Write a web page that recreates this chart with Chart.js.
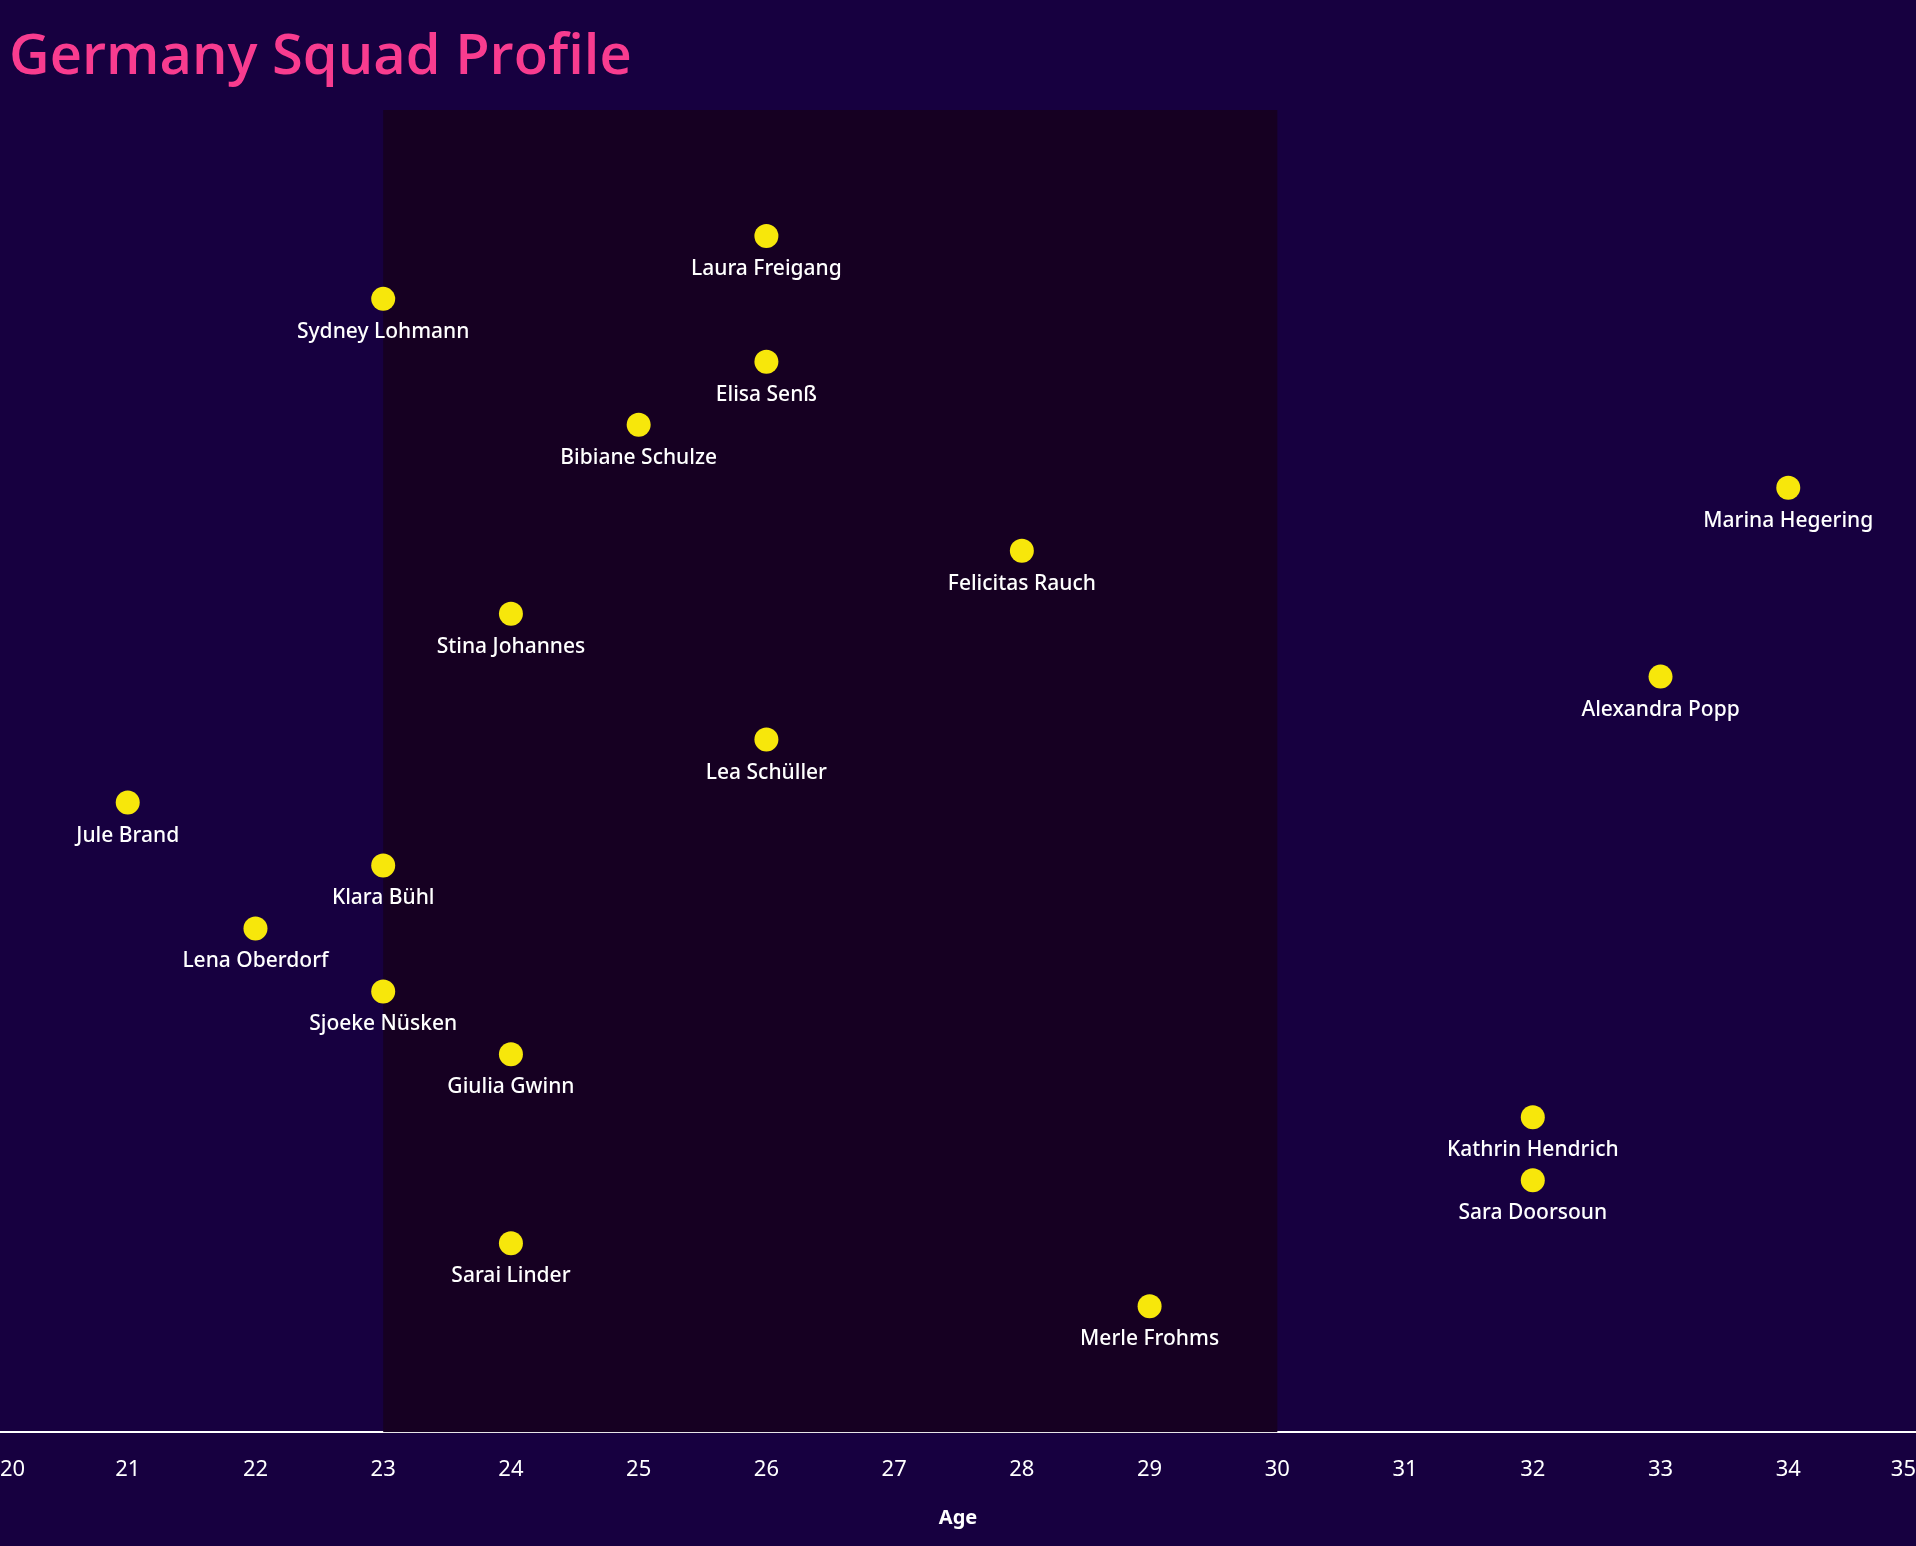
<!DOCTYPE html>
<html>
<head>
<meta charset="utf-8">
<script src="https://cdn.jsdelivr.net/npm/chart.js@4.4.0/dist/chart.umd.min.js"></script>
<style>
  html, body { margin: 0; padding: 0; background: #170040; }
  #wrap { position: relative; width: 1916px; height: 1546px; }
  #title {
    position: absolute; left: 9px; top: 24px; margin: 0;
    font-family: "Open Sans", "Noto Sans", sans-serif; font-weight: 600;
    font-size: 56px; line-height: 1; color: #f83c8f;
  }
</style>
</head>
<body>
<div id="wrap">
  <canvas id="squadChart" width="1916" height="1546"></canvas>
  <h1 id="title">Germany Squad Profile</h1>
</div>
<script>
// players, ages and their row (from top) in the chart
const players = ['Laura Freigang', 'Sydney Lohmann', 'Elisa Senß', 'Bibiane Schulze', 'Marina Hegering',
  'Felicitas Rauch', 'Stina Johannes', 'Alexandra Popp', 'Lea Schüller', 'Jule Brand', 'Klara Bühl',
  'Lena Oberdorf', 'Sjoeke Nüsken', 'Giulia Gwinn', 'Kathrin Hendrich', 'Sara Doorsoun', 'Sarai Linder', 'Merle Frohms'];
const ages = [26, 23, 26, 25, 34, 28, 24, 33, 26, 21, 23, 22, 23, 24, 32, 32, 24, 29];
const rows = [2, 3, 4, 5, 6, 7, 8, 9, 10, 11, 12, 13, 14, 15, 16, 17, 18, 19];
const ageTicks = [20, 21, 22, 23, 24, 25, 26, 27, 28, 29, 30, 31, 32, 33, 34, 35];
const peakAgeBand = [23, 30];

const points = ages.map((a, i) => ({ x: a, y: rows[i] }));

// shaded peak-age band behind the points
const bandPlugin = {
  id: 'band',
  beforeDatasetsDraw(chart) {
    const { ctx, chartArea, scales } = chart;
    const x1 = scales.x.getPixelForValue(peakAgeBand[0]);
    const x2 = scales.x.getPixelForValue(peakAgeBand[1]);
    ctx.save();
    ctx.fillStyle = '#160022';
    ctx.fillRect(x1, chartArea.top, x2 - x1, chartArea.bottom - chartArea.top);
    ctx.restore();
  }
};

// player name under each dot
const namePlugin = {
  id: 'names',
  afterDatasetsDraw(chart) {
    const { ctx } = chart;
    const meta = chart.getDatasetMeta(0);
    ctx.save();
    ctx.fillStyle = '#ffffff';
    ctx.font = '500 21px "Noto Sans", sans-serif';
    ctx.textAlign = 'center';
    ctx.textBaseline = 'middle';
    meta.data.forEach((pt, i) => {
      ctx.fillText(players[i], pt.x, pt.y + 33);
    });
    ctx.restore();
  }
};

const ctx = document.getElementById('squadChart').getContext('2d');
new Chart(ctx, {
  type: 'scatter',
  data: {
    datasets: [{
      label: 'Players',
      data: points,
      backgroundColor: '#f7e70b',
      borderWidth: 0,
      pointRadius: 12,
      pointHoverRadius: 12
    }]
  },
  options: {
    responsive: false,
    animation: false,
    events: [],
    layout: { autoPadding: false, padding: { top: 110, left: 0, right: 0, bottom: 0 } },
    plugins: {
      legend: { display: false },
      tooltip: { enabled: false }
    },
    scales: {
      x: {
        type: 'linear',
        min: 20,
        max: 35,
        afterBuildTicks(scale) {
          scale.ticks = ageTicks.map(v => ({ value: v }));
        },
        afterFit(scale) {
          // let the axis run edge to edge, like the original
          scale.paddingLeft = 0;
          scale.paddingRight = 0;
        },
        grid: { display: false, drawTicks: false },
        border: { display: true, color: '#ffffff', width: 2 },
        ticks: {
          align: 'inner',
          padding: 24,
          color: '#ffffff',
          font: { family: '"Noto Sans", sans-serif', size: 22 }
        },
        title: {
          display: true,
          text: 'Age',
          color: '#ffffff',
          font: { family: '"Noto Sans", sans-serif', size: 20, weight: 'bold' },
          padding: { top: 0, bottom: 15.5 }
        }
      },
      y: {
        display: false,
        reverse: true,
        min: 0,
        max: 21
      }
    }
  },
  plugins: [bandPlugin, namePlugin]
});
</script>
</body>
</html>
